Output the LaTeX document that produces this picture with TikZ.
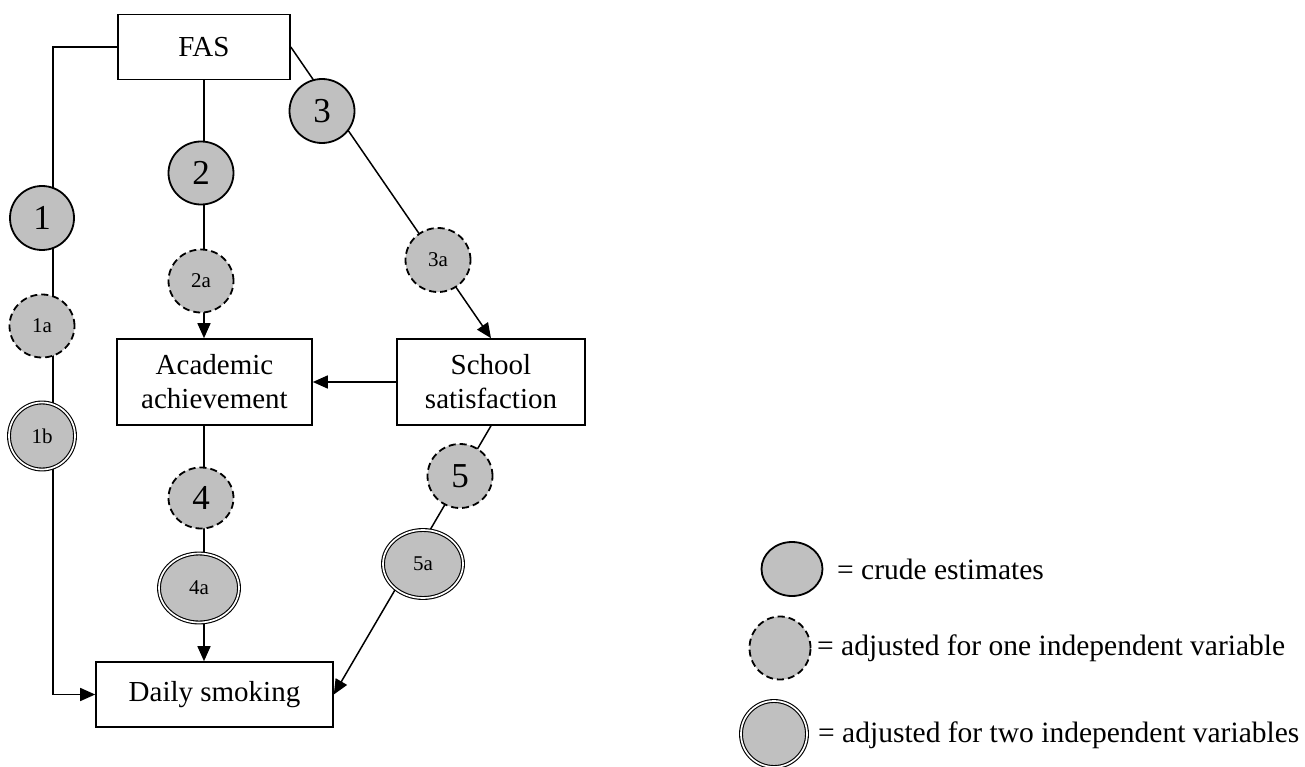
\documentclass[tikz,border=0pt]{standalone}
\usepackage{fontspec}
\setmainfont{Liberation Serif}
\usetikzlibrary{arrows.meta,backgrounds,shapes.geometric}
\definecolor{silv}{HTML}{C0C0C0}
\begin{document}
\begin{tikzpicture}[x=1pt,y=-1pt,
  box/.style={draw,line width=1.6pt,inner sep=0pt,align=center,font=\fontsize{29}{34}\selectfont},
  est/.style={ellipse,fill=silv,inner sep=0pt,text=black},
  crude/.style={est,draw,line width=1.8pt},
  adjone/.style={est,draw,line width=1.8pt,dash pattern=on 7pt off 4pt},
  adjtwo/.style={est,draw,line width=1.1pt,double=white,double distance=1.7pt},
  big/.style={font=\fontsize{35}{38}\selectfont},
  small/.style={font=\fontsize{21}{24}\selectfont},
  conn/.style={line width=1.5pt},
  arr/.style={conn,-{Triangle[length=15pt,width=13pt]}},
  legtext/.style={anchor=west,inner sep=0pt,font=\fontsize{29.5}{34}\selectfont}
]
\useasboundingbox (0,0) rectangle (1305,767);
% boxes
\node[box,minimum width=172pt,minimum height=65pt] (FAS) at (204,47) {FAS};
\node[box,minimum width=195pt,minimum height=86pt] (AA) at (214.5,382) {Academic\\achievement};
\node[box,minimum width=188pt,minimum height=86pt] (SS) at (491,382) {School\\satisfaction};
\node[box,minimum width=237pt,minimum height=65pt] (DS) at (214.5,694.5) {Daily smoking};
% estimate circles
\node[crude,big,minimum width=64pt,minimum height=64pt] (c1) at (42,218) {1};
\node[adjone,small,minimum width=65pt,minimum height=63pt] (c1a) at (42,326) {1a};
\node[adjtwo,small,minimum width=66pt,minimum height=67pt] (c1b) at (42,436) {1b};
\node[crude,big,minimum width=65pt,minimum height=63pt] (c2) at (201,173) {2};
\node[adjone,small,minimum width=65pt,minimum height=63pt] (c2a) at (201,281) {2a};
\node[crude,big,minimum width=65pt,minimum height=64pt] (c3) at (322,111) {3};
\node[adjone,small,minimum width=65pt,minimum height=64pt] (c3a) at (438,260) {3a};
\node[adjone,big,minimum width=65pt,minimum height=61pt] (c4) at (201,498) {4};
\node[adjtwo,small,minimum width=80pt,minimum height=69pt] (c4a) at (199,588) {4a};
\node[adjone,big,minimum width=65pt,minimum height=64pt] (c5) at (460,476) {5};
\node[adjtwo,small,minimum width=80pt,minimum height=68pt] (c5a) at (423,564) {5a};
% connectors
\coordinate (L) at (53,400);
\begin{scope}[on background layer]
\draw[arr] (FAS.west) -| (L) |- (DS.west);
\draw[arr] (FAS.south) -- (FAS.south |- AA.north);
\draw[arr] (AA.south -| FAS.south) -- (FAS.south |- DS.north);
\draw[arr] (FAS.east) -- (SS.north);
\draw[arr] (SS.west) -- (AA.east);
\draw[arr] (SS.south) -- (DS.east);
\end{scope}
% legend
\node[crude,minimum width=61pt,minimum height=54pt] (l1) at (792,569) {};
\node[adjone,minimum width=61pt,minimum height=63pt] (l2) at (780,648) {};
\node[adjtwo,minimum width=66pt,minimum height=66pt] (l3) at (774,734) {};
\node[legtext] (t1) at (837,569) {= crude estimates};
\node[legtext] (t2) at (817,648) {= adjusted for one independent variable};
\node[legtext] (t3) at (818,735) {= adjusted for two independent variables};
\end{tikzpicture}
\end{document}
